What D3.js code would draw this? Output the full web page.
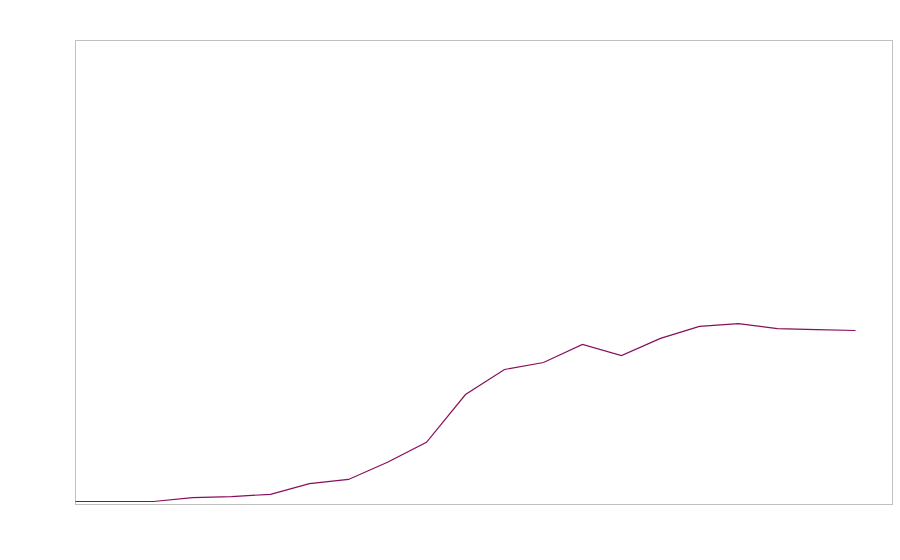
<!DOCTYPE html>
<html>
<head>
<meta charset="utf-8">
<script src="https://cdn.jsdelivr.net/npm/d3@7"></script>
<style>
  body { margin: 0; background: #fff; }
  svg { display: block; }
</style>
</head>
<body>
<svg id="chart" width="900" height="560"></svg>
<script>
// values (no axis labels shown, arbitrary 0-100 scale)
const steps = d3.range(0, 21)
const values = [0.65, 0.65, 0.65, 1.5, 1.7, 2.2, 4.5, 5.4, 9.1, 13.4, 23.7, 29.1, 30.6, 34.5, 32.1, 35.8, 38.4, 39.0, 37.9, 37.7, 37.5]

const svg = d3.select('#chart')
const margin = { top: 40.5, right: 7.5, bottom: 55.5, left: 75.5 }
const width = 900 - margin.left - margin.right
const height = 560 - margin.top - margin.bottom

const x = d3.scaleLinear().domain([0, 20.95]).range([0, width])
const y = d3.scaleLinear().domain([0, 100]).range([height, 0])

const g = svg.append('g').attr('transform', `translate(${margin.left},${margin.top})`)

g.append('rect')
    .attr('width', width)
    .attr('height', height)
    .attr('fill', 'none')
    .attr('stroke', '#c0c0c0')
    .attr('stroke-width', 1)

const line = d3.line()
    .x((d, i) => x(steps[i]))
    .y(d => y(d))

g.append('path')
    .datum(values)
    .attr('d', line)
    .attr('fill', 'none')
    .attr('stroke', '#880e5c')
    .attr('stroke-width', 1.2)
</script>
</body>
</html>
